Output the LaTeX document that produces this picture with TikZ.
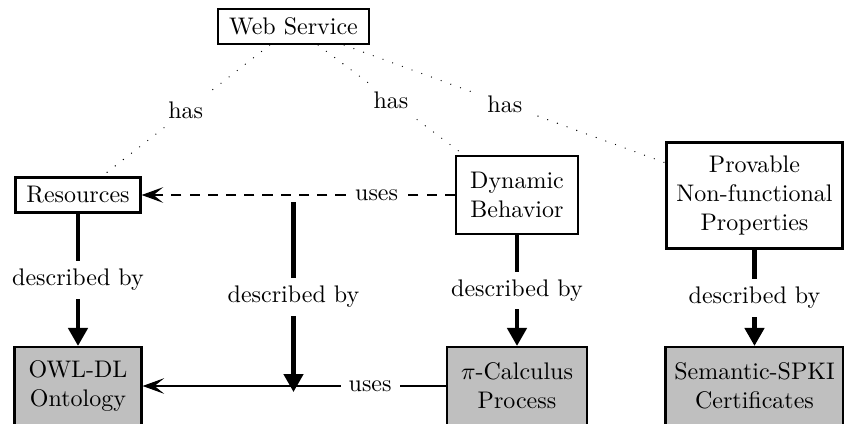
\documentclass[tikz,border=0pt]{standalone}
\usetikzlibrary{arrows.meta}
\begin{document}
\begin{tikzpicture}[x=0.41667pt,y=-0.41667pt,
  box/.style={draw,line width=0.9pt,align=center,inner sep=0pt},
  gbox/.style={box,fill=black!25},
  hasline/.style={line width=0.55pt,line cap=round,dash pattern=on 0pt off 4.3pt},
  lbl/.style={fill=white},
  descr/.style={line width=1.7pt,-{Triangle[width=8pt,length=7.5pt]}},
  useline/.style={semithick,-{Stealth[length=9pt,width=6.5pt,inset=4pt]}},
  usedash/.style={useline,dash pattern=on 4.2pt off 3.4pt}]
\useasboundingbox (0,0) rectangle (844,424);
% nodes
\node[box,minimum width=62.9pt,minimum height=14.6pt] (ws) at (293.5,26.5) {Web Service};
\node[box,minimum width=52.1pt,minimum height=14.6pt] (res) at (78,195) {Resources};
\node[box,minimum width=50.8pt,minimum height=32.5pt] (dyn) at (517,195) {Dynamic\\Behavior};
\node[box,minimum width=73.3pt,minimum height=44.2pt] (prov) at (754.5,195.5) {Provable\\Non-functional\\Properties};
\node[gbox,minimum width=52.9pt,minimum height=32.5pt] (owl) at (78,386) {OWL-DL\\Ontology};
\node[gbox,minimum width=58.3pt,minimum height=32.5pt] (pi) at (517,386) {$\pi$-Calculus\\Process};
\node[gbox,minimum width=74.2pt,minimum height=32.5pt] (spki) at (754.5,386) {Semantic-SPKI\\Certificates};
\coordinate (mtop) at (293.5,202);
\coordinate (mbot) at (293.5,392);
% has
\draw[hasline] (ws) -- node[lbl] {has} (res);
\draw[hasline] (ws) -- node[lbl] {has} (dyn);
\draw[hasline] (ws) -- node[lbl] {has} (prov);
% uses
\draw[usedash] (dyn) -- node[lbl,pos=0.25] {uses} (res);
\draw[useline] (pi) -- node[lbl,pos=0.25] {uses} (owl);
% described by
\draw[descr] (res) -- node[lbl] {described by} (owl);
\draw[descr] (mtop) -- node[lbl] {described by} (mbot);
\draw[descr] (dyn) -- node[lbl] {described by} (pi);
\draw[descr] (prov) -- node[lbl] {described by} (spki);
\end{tikzpicture}
\end{document}
